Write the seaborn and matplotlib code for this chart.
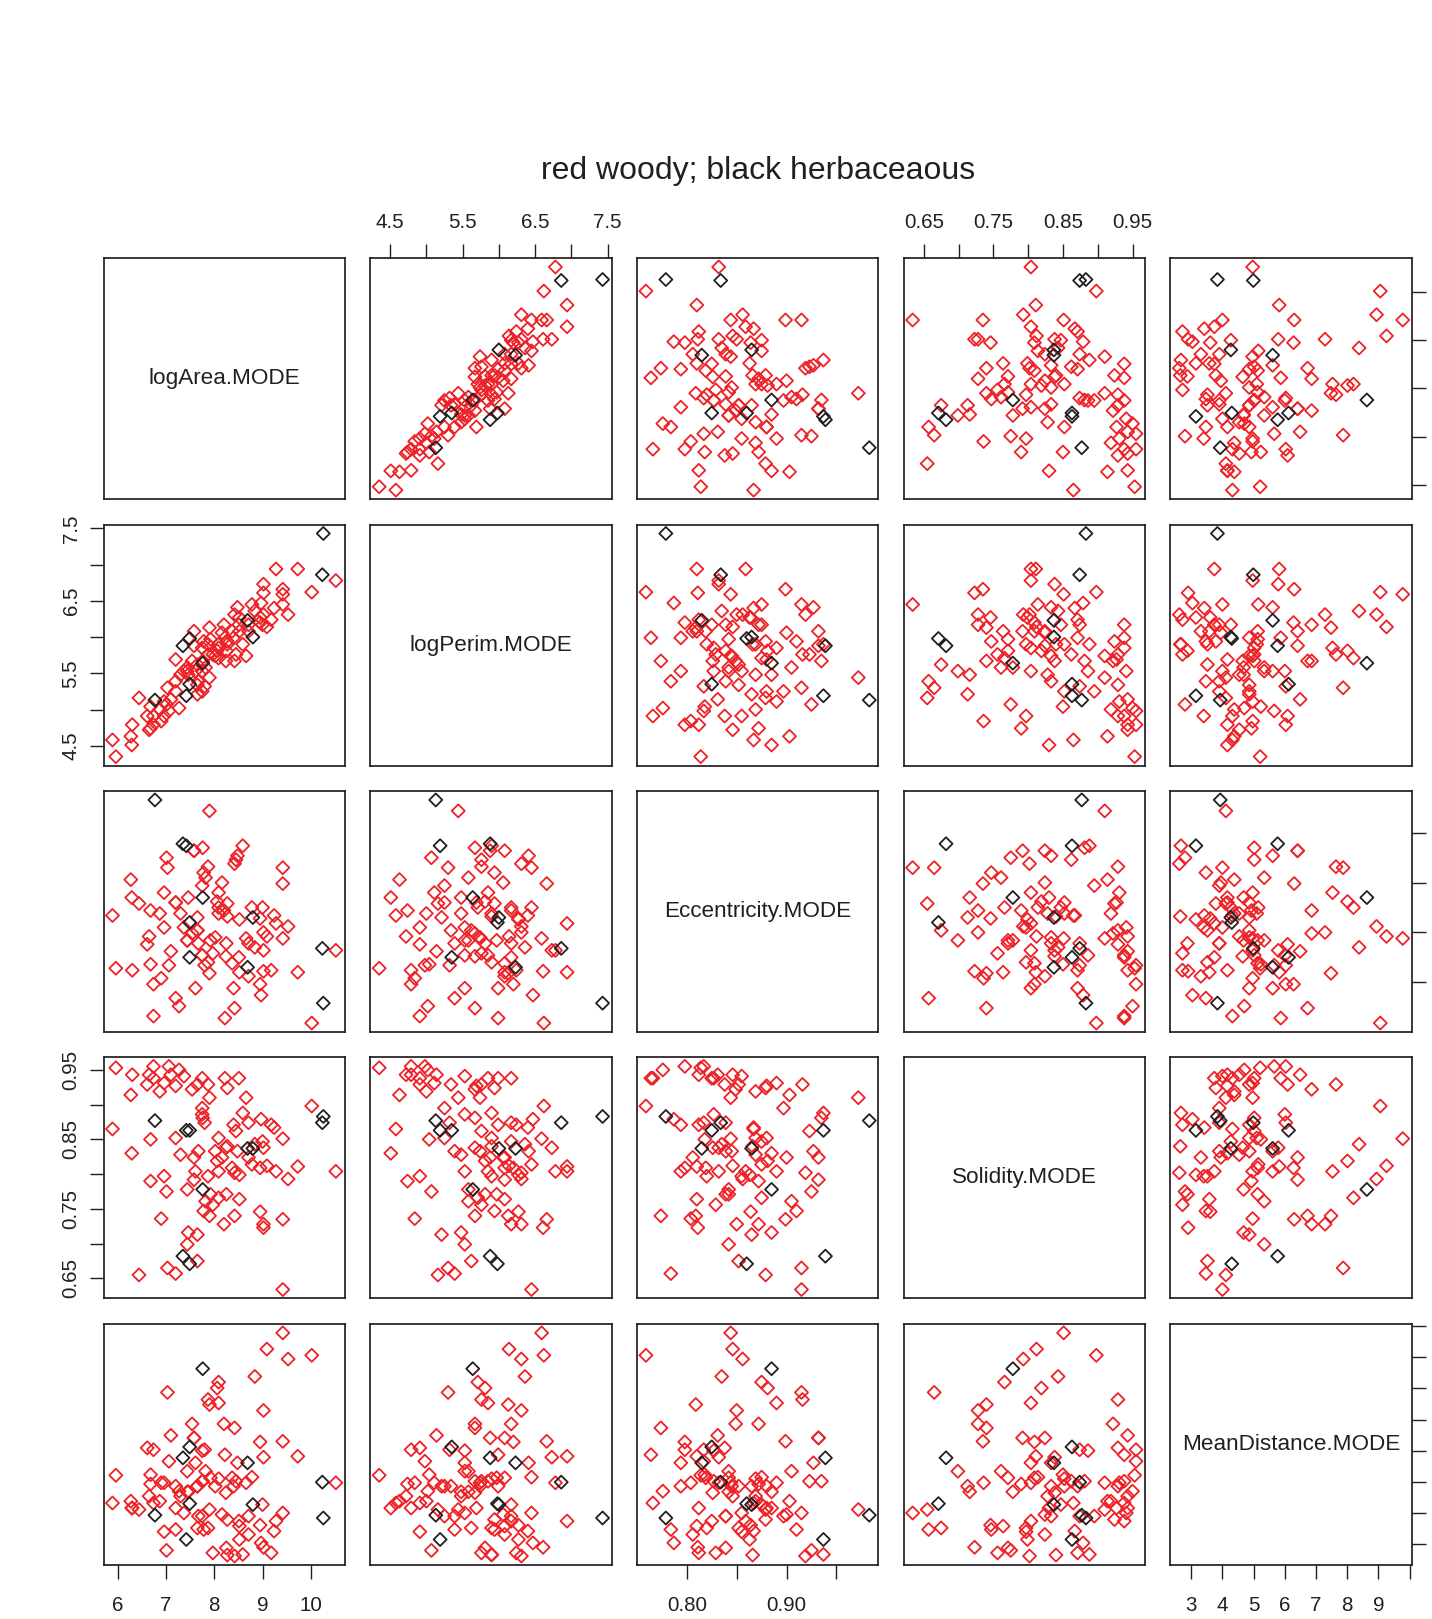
import matplotlib
matplotlib.use("Agg")
import matplotlib.pyplot as plt
import numpy as np
import pandas as pd
import seaborn as sns
from matplotlib import font_manager as fm

sns.set_style("white")
_avail = {f.name for f in fm.fontManager.ttflist}
if "Liberation Sans Narrow" in _avail:
    _fam = "Liberation Sans Narrow"
    TITLE_FS, DIAG_FS, TICK_FS = 28, 19.5, 15.8
else:
    _fam = "Liberation Sans"
    TITLE_FS, DIAG_FS, TICK_FS = 23, 16.2, 14.8
plt.rcParams["font.family"] = [_fam, "DejaVu Sans"]

# ---------------- data ----------------
variables = ["logArea.MODE", "logPerim.MODE", "Eccentricity.MODE",
             "Solidity.MODE", "MeanDistance.MODE"]

# woody (red) leaves
woody_logArea = [10.52, 10.02, 9.73, 9.53, 9.42, 9.42, 9.42, 9.28, 9.24, 9.18,
                 9.09, 9.02, 9.02, 9.02, 9.00, 8.97, 8.95, 8.95, 8.84, 8.78,
                 8.71, 8.71, 8.66, 8.59, 8.52, 8.52, 8.51, 8.48, 8.45, 8.42,
                 8.42, 8.40, 8.37, 8.27, 8.27, 8.25, 8.24, 8.22, 8.20, 8.16,
                 8.09, 8.09, 8.09, 8.06, 8.02, 7.97, 7.92, 7.90, 7.90, 7.87,
                 7.87, 7.82, 7.80, 7.78, 7.76, 7.75, 7.75, 7.75, 7.67, 7.65,
                 7.65, 7.65, 7.61, 7.58, 7.58, 7.54, 7.46, 7.44, 7.44, 7.37,
                 7.30, 7.27, 7.20, 7.20, 7.20, 7.10, 7.06, 7.03, 7.01, 6.96,
                 6.96, 6.90, 6.87, 6.74, 6.74, 6.68, 6.68, 6.65, 6.61, 6.44,
                 6.30, 6.29, 6.27, 5.96, 5.89]
woody_logPerim = [6.78, 6.62, 6.94, 6.31, 6.59, 6.66, 6.45, 6.94, 6.40, 6.24,
                  6.14, 6.61, 6.73, 6.31, 6.17, 6.47, 6.27, 6.20, 6.36, 6.45,
                  6.08, 6.17, 5.74, 5.90, 6.08, 6.27, 6.17, 6.41, 5.76, 5.67,
                  6.31, 5.99, 6.08, 5.90, 5.94, 5.81, 5.67, 5.99, 6.17, 6.06,
                  5.71, 5.85, 5.90, 5.81, 5.74, 5.76, 5.97, 6.13, 5.44, 5.90,
                  5.76, 5.58, 5.32, 5.94, 5.67, 5.85, 5.53, 5.25, 5.39, 5.62,
                  5.34, 5.21, 5.53, 5.88, 6.08, 5.67, 5.48, 5.58, 5.53, 5.53,
                  5.48, 5.02, 5.39, 5.69, 5.25, 5.14, 4.98, 5.30, 5.07, 4.91,
                  5.11, 4.84, 5.00, 4.79, 4.91, 4.74, 5.04, 4.72, 4.91, 5.16,
                  4.79, 4.51, 4.63, 4.35, 4.58]
woody_ecc = [0.832, 0.759, 0.810, 0.856, 0.844, 0.899, 0.915, 0.859, 0.867, 0.812,
             0.846, 0.811, 0.832, 0.850, 0.875, 0.787, 0.864, 0.798, 0.835, 0.875,
             0.806, 0.839, 0.844, 0.937, 0.810, 0.863, 0.825, 0.927, 0.923, 0.774,
             0.919, 0.794, 0.819, 0.866, 0.879, 0.839, 0.826, 0.764, 0.872, 0.900,
             0.875, 0.890, 0.869, 0.881, 0.845, 0.829, 0.842, 0.809, 0.972, 0.820,
             0.916, 0.905, 0.817, 0.910, 0.935, 0.827, 0.827, 0.897, 0.839, 0.852,
             0.852, 0.865, 0.794, 0.932, 0.932, 0.849, 0.885, 0.842, 0.842, 0.855,
             0.869, 0.776, 0.784, 0.880, 0.880, 0.831, 0.817, 0.915, 0.925, 0.855,
             0.890, 0.804, 0.869, 0.798, 0.766, 0.872, 0.818, 0.846, 0.838, 0.879,
             0.812, 0.885, 0.903, 0.814, 0.867]
woody_sol = [0.804, 0.898, 0.811, 0.793, 0.851, 0.735, 0.634, 0.804, 0.867, 0.871,
             0.812, 0.723, 0.838, 0.728, 0.847, 0.879, 0.746, 0.809, 0.843, 0.814,
             0.824, 0.874, 0.910, 0.888, 0.764, 0.799, 0.938, 0.833, 0.862, 0.740,
             0.802, 0.871, 0.809, 0.840, 0.924, 0.771, 0.838, 0.938, 0.728, 0.824,
             0.766, 0.804, 0.852, 0.819, 0.833, 0.756, 0.771, 0.740, 0.910, 0.797,
             0.929, 0.761, 0.874, 0.747, 0.881, 0.938, 0.886, 0.895, 0.833, 0.675,
             0.929, 0.713, 0.804, 0.824, 0.792, 0.922, 0.716, 0.778, 0.699, 0.941,
             0.828, 0.950, 0.657, 0.927, 0.852, 0.943, 0.955, 0.665, 0.775, 0.797,
             0.931, 0.736, 0.919, 0.955, 0.938, 0.790, 0.850, 0.943, 0.929, 0.655,
             0.943, 0.830, 0.914, 0.953, 0.865]
woody_md = [4.97, 9.06, 5.82, 8.94, 9.78, 6.30, 4.00, 3.74, 3.42, 2.72,
            9.26, 2.90, 5.79, 7.29, 4.27, 3.04, 3.61, 6.28, 8.38, 5.15,
            3.31, 3.90, 4.97, 2.67, 3.58, 3.15, 3.74, 5.61, 5.02, 6.73,
            2.62, 4.86, 5.13, 2.65, 3.79, 2.88, 4.65, 5.87, 6.86, 3.95,
            8.20, 7.53, 5.10, 8.01, 4.86, 2.72, 5.13, 7.48, 4.11, 3.52,
            7.64, 5.34, 6.03, 3.47, 5.02, 5.02, 6.00, 3.90, 3.90, 3.52,
            4.86, 4.86, 5.61, 6.41, 6.41, 6.86, 4.68, 4.68, 5.34, 4.00,
            4.54, 4.70, 3.47, 4.16, 4.86, 6.49, 5.66, 7.87, 2.80, 3.40,
            4.97, 4.97, 4.38, 6.03, 4.32, 4.93, 5.23, 4.54, 6.09, 4.11,
            4.16, 4.16, 4.38, 5.21, 4.32]

# herbaceous (black) leaves
herb_logArea = [10.26, 10.24, 8.80, 8.69, 7.76, 7.49, 7.49, 7.42, 7.35, 6.77]
herb_logPerim = [7.43, 6.86, 6.00, 6.23, 5.64, 5.35, 5.98, 5.19, 5.88, 5.13]
herb_ecc = [0.779, 0.834, 0.865, 0.815, 0.885, 0.825, 0.860, 0.937, 0.939, 0.983]
herb_sol = [0.883, 0.874, 0.837, 0.837, 0.778, 0.863, 0.671, 0.863, 0.682, 0.877]
herb_md = [3.84, 4.99, 4.27, 5.61, 8.63, 6.12, 4.30, 3.15, 5.77, 3.93]

tick_values = {
    "logArea.MODE": [6, 7, 8, 9, 10],
    "logPerim.MODE": [4.5, 5.0, 5.5, 6.0, 6.5, 7.0, 7.5],
    "Eccentricity.MODE": [0.80, 0.85, 0.90, 0.95],
    "Solidity.MODE": [0.65, 0.70, 0.75, 0.80, 0.85, 0.90, 0.95],
    "MeanDistance.MODE": [3, 4, 5, 6, 7, 8, 9, 10],
}
tick_labels = {
    "logArea.MODE": ["6", "7", "8", "9", "10"],
    "logPerim.MODE": ["4.5", "", "5.5", "", "6.5", "", "7.5"],
    "Eccentricity.MODE": ["0.80", "", "0.90", ""],
    "Solidity.MODE": ["0.65", "", "0.75", "", "0.85", "", "0.95"],
    "MeanDistance.MODE": ["3", "4", "5", "6", "7", "8", "9", ""],
}
title = "red woody; black herbaceaous"

# ---------------- build table ----------------
woody = pd.DataFrame({
    variables[0]: woody_logArea, variables[1]: woody_logPerim,
    variables[2]: woody_ecc, variables[3]: woody_sol, variables[4]: woody_md})
woody["growth"] = "woody"
herb = pd.DataFrame({
    variables[0]: herb_logArea, variables[1]: herb_logPerim,
    variables[2]: herb_ecc, variables[3]: herb_sol, variables[4]: herb_md})
herb["growth"] = "herbaceous"
df = pd.concat([woody, herb], ignore_index=True)

RED = "#EC2227"
BLACK = "#231F20"
EDGE = "#231F20"
colors = {"woody": RED, "herbaceous": BLACK}

fig, axes = plt.subplots(5, 5, figsize=(14.32, 16.19), dpi=100)
fig.subplots_adjust(left=0.0723, right=0.9858, bottom=0.0334, top=0.8406,
                    wspace=0.1056, hspace=0.1058)

limits = {}
for v in variables:
    lo, hi = df[v].min(), df[v].max()
    pad = 0.04 * (hi - lo)
    limits[v] = (lo - pad, hi + pad)

for i, yv in enumerate(variables):
    for j, xv in enumerate(variables):
        ax = axes[i, j]
        ax.set_facecolor("white")
        if i != j:
            for grp in ["woody", "herbaceous"]:
                sub = df[df["growth"] == grp]
                sns.scatterplot(data=sub, x=xv, y=yv, ax=ax, marker="D", s=44,
                                facecolor="none", edgecolor=colors[grp],
                                color=colors[grp], linewidth=1.3, legend=False,
                                zorder=3)
        else:
            ax.text(0.5, 0.5, xv, transform=ax.transAxes, ha="center",
                    va="center", fontsize=DIAG_FS, color="#231F20")
        ax.set_xlim(limits[xv])
        ax.set_ylim(limits[yv])
        ax.set_xlabel("")
        ax.set_ylabel("")
        ax.set_xticks(tick_values[xv])
        ax.set_xticklabels(tick_labels[xv])
        ax.set_yticks(tick_values[yv])
        ax.set_yticklabels(tick_labels[yv])
        ax.grid(False)
        ax.tick_params(axis="both", which="both", bottom=False, top=False,
                       left=False, right=False, labelbottom=False,
                       labeltop=False, labelleft=False, labelright=False,
                       direction="out", length=10, width=1.0, colors=EDGE,
                       labelsize=TICK_FS, labelcolor="#231F20")
        for s in ax.spines.values():
            s.set_visible(True)
            s.set_linewidth(1.25)
            s.set_color(EDGE)

for j in range(5):
    if j % 2 == 0:
        axes[4, j].tick_params(axis="x", bottom=True, labelbottom=True, pad=12.5)
    else:
        axes[0, j].tick_params(axis="x", top=True, labeltop=True, pad=9)
for i in range(5):
    if i % 2 == 0:
        axes[i, 4].tick_params(axis="y", right=True, labelright=False)
    else:
        axes[i, 0].tick_params(axis="y", left=True, labelleft=True,
                               labelrotation=90, pad=6.5)
        for lbl in axes[i, 0].get_yticklabels():
            lbl.set_verticalalignment("center")

fig.text(0.5292, 1 - 171 / 1619, title, ha="center", va="center",
         fontsize=TITLE_FS, color="#231F20")

fig.savefig("out.png", dpi=100, facecolor="white")
